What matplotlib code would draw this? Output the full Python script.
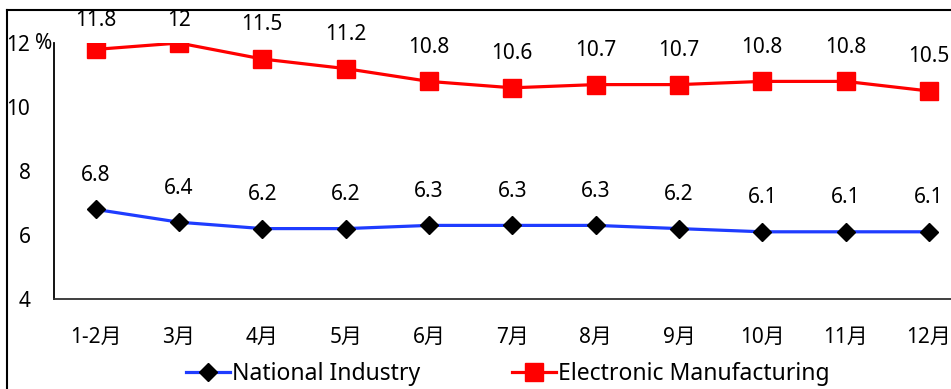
import matplotlib
matplotlib.use("Agg")
import matplotlib.pyplot as plt
from matplotlib.lines import Line2D
import matplotlib.transforms as mtransforms

plt.rcParams['font.family'] = ['Noto Sans', 'Noto Sans CJK SC', 'DejaVu Sans']

months = ["1-2月", "3月", "4月", "5月", "6月", "7月", "8月", "9月", "10月", "11月", "12月"]
national = [6.8, 6.4, 6.2, 6.2, 6.3, 6.3, 6.3, 6.2, 6.1, 6.1, 6.1]
electronic = [11.8, 12.0, 11.5, 11.2, 10.8, 10.6, 10.7, 10.7, 10.8, 10.8, 10.5]
value_labels_nat = ["6.8", "6.4", "6.2", "6.2", "6.3", "6.3", "6.3", "6.2", "6.1", "6.1", "6.1"]
value_labels_ele = ["11.8", "12", "11.5", "11.2", "10.8", "10.6", "10.7", "10.7", "10.8", "10.8", "10.5"]
yticks = [4, 6, 8, 10, 12]

W, H = 951, 389
FS = 15
fig = plt.figure(figsize=(W / 100, H / 100), dpi=100)
ax = fig.add_axes([54 / W, 1 - 299 / H, 916.6 / W, 256 / H])

x = list(range(len(months)))
ax.plot(x, national, color='#1f3cff', lw=2.3, marker='D', ms=9.5,
        mfc='black', mec='black', mew=1, label='National Industry', zorder=3)
ax.plot(x, electronic, color='#ff0000', lw=2.3, marker='s', ms=12.5,
        mfc='#ff0000', mec='#ff0000', mew=1, label='Electronic Manufacturing', zorder=3)

ax.set_xlim(-0.5, len(months) - 0.5)
ax.set_ylim(4, 12)
ax.set_yticks(yticks)
ax.set_yticklabels([str(t) for t in yticks], fontsize=FS)
ax.set_xticks(x)
ax.set_xticklabels(months, fontsize=FS)
ax.tick_params(axis='y', length=0, pad=17)
ax.tick_params(axis='x', length=0, pad=20)

ax.spines['top'].set_visible(False)
ax.spines['right'].set_visible(False)
ax.spines['left'].set_color('black')
ax.spines['left'].set_linewidth(1.3)
ax.spines['bottom'].set_color('#303030')
ax.spines['bottom'].set_linewidth(1.3)

ytop_clamp = 12.7
for xi, v, s in zip(x, electronic, value_labels_ele):
    ax.text(xi, min(v + 1.07, ytop_clamp), s, ha='center', va='center', fontsize=FS, clip_on=False)
for xi, v, s in zip(x, national, value_labels_nat):
    ax.text(xi, v + 1.06, s, ha='center', va='center', fontsize=FS, clip_on=False)

trans = mtransforms.blended_transform_factory(ax.transAxes, ax.transData)
ax.annotate('%', xy=(0, 12), xycoords=trans, xytext=(-2, 0), textcoords='offset pixels',
            ha='right', va='center', fontsize=FS)

fig.legend(loc='center', bbox_to_anchor=(508 / W, 1 - 374 / H), ncol=2, frameon=False,
           fontsize=16.5, handlelength=1.9, handletextpad=0.1, columnspacing=4.0)

# outer frame (top and left)
fig.add_artist(Line2D([7 / W, 1.0], [1 - 10 / H, 1 - 10 / H], transform=fig.transFigure, color='black', lw=1.5))
fig.add_artist(Line2D([7 / W, 7 / W], [0, 1 - 10 / H], transform=fig.transFigure, color='black', lw=1.5))

fig.savefig('out.png', dpi=100)
